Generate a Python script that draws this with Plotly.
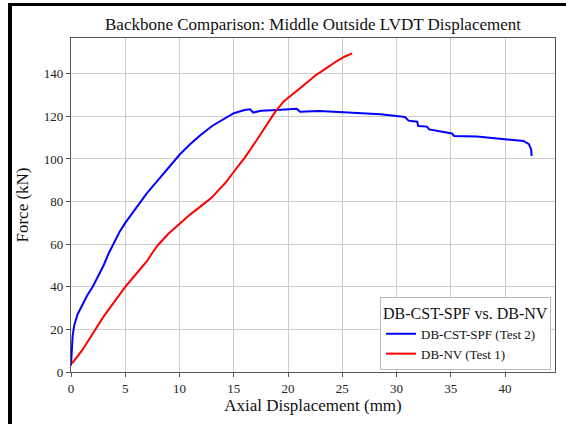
import plotly.graph_objects as go

# DB-CST-SPF (Test 2)
blue_x = [0.0, 0.05, 0.15, 0.3, 0.6, 1.0, 1.5, 2.0, 2.5, 3.0, 3.5, 4.0, 4.5, 5.0, 6.0, 7.0, 8.0, 9.0,
          10.0, 11.0, 12.0, 13.0, 14.0, 15.0, 16.0, 16.5, 16.8, 17.5, 19.0, 20.8, 21.1, 22.9, 25.1,
          28.5, 30.4, 30.8, 31.1, 31.9, 32.0, 32.8, 33.0, 35.1, 35.3, 37.4, 40.2, 41.7, 42.2, 42.4, 42.45]
blue_y = [3.0, 10.0, 17.0, 22.0, 27.0, 31.0, 36.0, 40.0, 45.0, 50.0, 56.0, 61.0, 66.0, 70.0, 77.0, 84.0, 90.0, 96.0,
          102.0, 107.0, 111.5, 115.5, 118.5, 121.5, 123.0, 123.3, 121.8, 122.6, 123.0, 123.6, 122.2, 122.5, 122.0,
          121.0, 120.0, 119.6, 118.0, 117.5, 115.5, 115.2, 113.9, 112.0, 110.8, 110.5, 109.2, 108.5, 107.0, 104.5, 101.4]

# DB-NV (Test 1)
red_x = [0.1, 0.5, 1.0, 1.5, 2.0, 2.5, 3.0, 4.0, 5.0, 6.0, 7.0, 7.5, 8.0, 9.0, 10.0, 11.0, 12.0, 13.0,
         13.7, 14.2, 15.0, 16.0, 17.0, 18.0, 18.8, 19.6, 20.5, 21.1, 22.0, 22.6, 23.5, 24.5, 25.2, 25.9]
red_y = [4.0, 6.5, 10.0, 14.0, 18.0, 22.0, 26.0, 33.0, 40.0, 46.0, 52.0, 56.0, 59.5, 65.0, 69.5, 74.0, 78.0, 82.0,
         86.0, 88.6, 94.0, 100.5, 108.0, 115.5, 122.0, 127.0, 130.5, 133.2, 137.0, 139.5, 142.5, 146.0, 148.0, 149.6]

x_ticks = [0, 5, 10, 15, 20, 25, 30, 35, 40]
y_ticks = [0, 20, 40, 60, 80, 100, 120, 140]

FONT = "Liberation Serif"
W, H = 566, 424
L, R, T, B = 71, 11, 38, 52
pw, ph = W - L - R, H - T - B

def px_x(p):
    return (p - L) / pw

def px_y(p):
    return (H - B - p) / ph

fig = go.Figure()
fig.add_trace(go.Scatter(x=blue_x, y=blue_y, mode="lines", name="DB-CST-SPF (Test 2)",
                         line=dict(color="#0000ff", width=2)))
fig.add_trace(go.Scatter(x=red_x, y=red_y, mode="lines", name="DB-NV (Test 1)",
                         line=dict(color="#ff0000", width=2)))

axis_common = dict(showgrid=True, gridcolor="#cccccc", gridwidth=1, zeroline=False,
                   showline=True, linecolor="#555555", linewidth=1.2, mirror=True,
                   ticks="outside", ticklen=4, tickcolor="#555555",
                   tickfont=dict(family=FONT, size=13, color="#222222"))

fig.update_layout(
    width=W, height=H,
    margin=dict(l=L, r=R, t=T, b=B),
    paper_bgcolor="white", plot_bgcolor="white",
    title=dict(text="Backbone Comparison: Middle Outside LVDT Displacement",
               font=dict(family=FONT, size=17, color="#111111"),
               x=(L + pw / 2) / W, xanchor="center", y=1 - 24 / H, yanchor="middle"),
    xaxis=dict(range=[0, 44.6], tickvals=x_ticks,
               title=dict(text="Axial Displacement (mm)", font=dict(family=FONT, size=17, color="#111111"),
                          standoff=4),
               **axis_common),
    yaxis=dict(range=[0, 156.8], tickvals=y_ticks,
               title=dict(text="Force (kN)", font=dict(family=FONT, size=17, color="#111111"),
                          standoff=10),
               **axis_common),
    legend=dict(title=dict(text="DB-CST-SPF vs. DB-NV", font=dict(family=FONT, size=16, color="#111111")),
                font=dict(family=FONT, size=13, color="#111111"),
                x=px_x(551), xanchor="right", y=px_y(297), yanchor="top",
                bgcolor="white", bordercolor="#bbbbbb", borderwidth=1,
                itemwidth=30, tracegroupgap=0),
    showlegend=True,
)

# black frame bars (left and top edges of the screenshot)
fig.add_shape(type="rect", xref="paper", yref="paper", layer="above",
              x0=px_x(8), x1=px_x(12), y0=px_y(H + 2), y1=px_y(3),
              fillcolor="black", line=dict(width=0))
fig.add_shape(type="rect", xref="paper", yref="paper", layer="above",
              x0=px_x(8), x1=px_x(W + 2), y0=px_y(6), y1=px_y(3),
              fillcolor="black", line=dict(width=0))

fig.write_html("out.html")
